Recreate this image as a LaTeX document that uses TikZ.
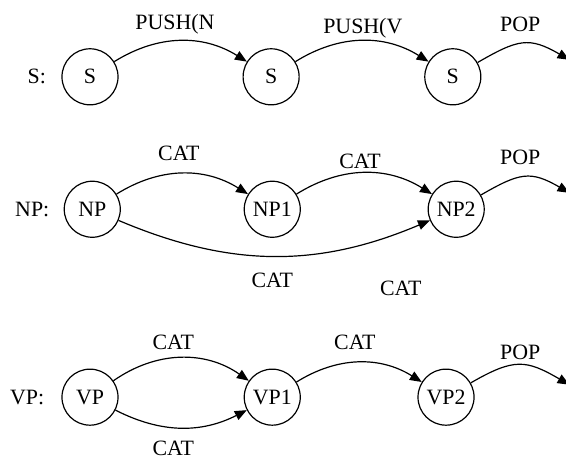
\documentclass[tikz,border=0pt]{standalone}
\usepackage{fontspec}
\setmainfont{Liberation Serif}
\usetikzlibrary{arrows.meta}

\begin{document}
\begin{tikzpicture}[state/.style={circle,draw,semithick,minimum size=0.99cm,inner sep=0pt},
  trans/.style={semithick,-{Triangle[length=2.1mm,width=1.7mm]}},
  font=\fontsize{11}{13}\selectfont]
\useasboundingbox (0,0) rectangle (10,8.127);
% S network
\node (slab) at (.65,6.77) {S:};
\node[state] (s0) at (1.59,6.77) {S};
\node[state] (s1) at (4.79,6.77) {S};
\node[state] (s2) at (8.0,6.77) {S};
\coordinate (send) at (10.06,7.07);
\draw[trans] (s0) to[bend left=32] (s1);
\draw[trans] (s1) to[bend left=32] (s2);
\draw[trans] (s2) to[out=30,in=150,looseness=1.3] (send);
\node (pushn) at (3.09,7.69) {PUSH(N};
\node (pushv) at (6.41,7.63) {PUSH(V};
\node (spop) at (9.19,7.7) {POP};
% NP network
\node (nplab) at (.57,4.43) {NP:};
\node[state] (np0) at (1.63,4.43) {NP};
\node[state] (np1) at (4.81,4.43) {NP1};
\node[state] (np2) at (8.06,4.43) {NP2};
\coordinate (npend) at (10.06,4.72);
\draw[trans] (np0) to[bend left=32] (np1);
\draw[trans] (np1) to[bend left=32] (np2);
\draw[trans] (np0) to[bend right=23] (np2);
\draw[trans] (np2) to[out=30,in=150,looseness=1.3] (npend);
\node (npcat1) at (3.16,5.41) {CAT};
\node (npcat2) at (6.36,5.28) {CAT};
\node (nppop) at (9.19,5.34) {POP};
\node (npcat3) at (4.81,3.18) {CAT};
\node (npcat4) at (7.08,3.04) {CAT};
% VP network
\node (vplab) at (.48,1.11) {VP:};
\node[state] (vp0) at (1.59,1.11) {VP};
\node[state] (vp1) at (4.81,1.11) {VP1};
\node[state] (vp2) at (7.88,1.11) {VP2};
\coordinate (vpend) at (10.06,1.33);
\draw[trans] (vp0) to[bend left=35] (vp1);
\draw[trans] (vp0) to[bend right=27] (vp1);
\draw[trans] (vp1) to[bend left=32] (vp2);
\draw[trans] (vp2) to[out=30,in=150,looseness=1.3] (vpend);
\node (vpcat1) at (3.06,2.08) {CAT};
\node (vpcat2) at (3.06,.2) {CAT};
\node (vpcat3) at (6.27,2.08) {CAT};
\node (vppop) at (9.19,1.91) {POP};
\end{tikzpicture}
\end{document}
